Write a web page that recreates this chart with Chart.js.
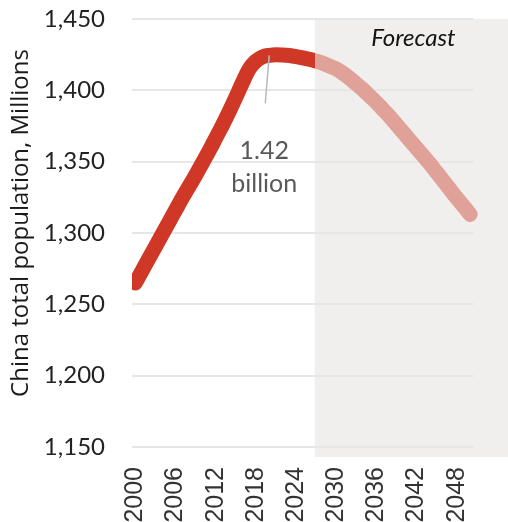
<!DOCTYPE html>
<html>
<head>
<meta charset="utf-8">
<script src="https://cdn.jsdelivr.net/npm/chart.js@4/dist/chart.umd.min.js"></script>
<style>
  html, body { margin: 0; padding: 0; background: #fff; overflow: hidden; }
  #wrap { width: 508px; height: 522px; position: relative; }
</style>
</head>
<body>
<div id="wrap"><canvas id="popChart"></canvas></div>
<script>
// China total population, millions
const years = [
    2000, 2001, 2002, 2003, 2004, 2005, 2006, 2007, 2008, 2009,
    2010, 2011, 2012, 2013, 2014, 2015, 2016, 2017, 2018, 2019,
    2020, 2021, 2022, 2023, 2024, 2025, 2026, 2027, 2028, 2029,
    2030, 2031, 2032, 2033, 2034, 2035, 2036, 2037, 2038, 2039,
    2040, 2041, 2042, 2043, 2044, 2045, 2046, 2047, 2048, 2049, 2050
];
// 2000-2026
const actual = [
    1265, 1273.5, 1282, 1290.5, 1299, 1307.5, 1316, 1324.5, 1332.5, 1340.5,
    1349, 1357.5, 1366.5, 1375.5, 1385, 1395, 1405.5, 1415, 1420.5, 1423.5,
    1424.5, 1424.9, 1424.8, 1424.4, 1423.7, 1422.8, 1421.8
];
// 2027-2050
const forecast = [
    1420.5, 1419, 1417, 1415, 1412, 1408.5, 1404.5, 1400.5, 1396, 1391.5,
    1386.5, 1381.5, 1376, 1370.5, 1365, 1359.5, 1354, 1348.5, 1342.5, 1336.5,
    1330.5, 1324.5, 1319, 1313
];
const tickYears = [2000, 2006, 2012, 2018, 2024, 2030, 2036, 2042, 2048];
const yTicks = [1150, 1200, 1250, 1300, 1350, 1400, 1450];
const forecastFrom = 2026.8;
const calloutYear = 2020;

const population = actual.concat(forecast);
const peakLabel = (Math.max(...population) / 1000).toFixed(2);

const pastColor = '#cf3727';
const futureColor = '#e0a198';

// line colour switches sharply where the forecast band starts
function lineColor(context) {
    const chart = context.chart;
    const {ctx, chartArea, scales} = chart;
    if (!chartArea || !scales.x) return pastColor;
    const split = Math.min(Math.max(scales.x.getPixelForValue(forecastFrom) / chart.width, 0), 1);
    const g = ctx.createLinearGradient(0, 0, chart.width, 0);
    g.addColorStop(0, pastColor);
    g.addColorStop(split, pastColor);
    g.addColorStop(split, futureColor);
    g.addColorStop(1, futureColor);
    return g;
}

const overlay = {
    id: 'overlay',
    beforeDraw(chart) {
        const {ctx, chartArea, scales: {x}} = chart;
        const left = x.getPixelForValue(forecastFrom);
        ctx.save();
        ctx.fillStyle = '#f0efed';
        ctx.fillRect(left, chartArea.top, chart.width - left, chartArea.bottom - chartArea.top + 10);
        ctx.restore();
    },
    afterDatasetsDraw(chart) {
        const {ctx, chartArea, scales: {x, y}} = chart;
        const px = x.getPixelForValue(calloutYear);
        const py = y.getPixelForValue(population[years.indexOf(calloutYear)]);
        ctx.save();

        // leader line to the peak
        ctx.strokeStyle = '#b5b9c0';
        ctx.lineWidth = 1.5;
        ctx.beginPath();
        ctx.moveTo(px, py);
        ctx.lineTo(px - 4, py + 48);
        ctx.stroke();

        ctx.fillStyle = '#595959';
        ctx.font = '25px Lato';
        ctx.textAlign = 'center';
        ctx.textBaseline = 'middle';
        ctx.fillText(peakLabel, px - 5, py + 96);
        ctx.fillText('billion', px - 5, py + 129);

        const left = x.getPixelForValue(forecastFrom);
        ctx.font = 'italic 24px Lato';
        ctx.fillStyle = '#141414';
        ctx.fillText('Forecast', (left + chart.width) / 2 + 2, chartArea.top + 19);

        // y axis title
        ctx.translate(21, (chartArea.top + chartArea.bottom) / 2 - 10);
        ctx.rotate(-Math.PI / 2);
        ctx.font = '24px "Open Sans"';
        ctx.fillStyle = '#1a1a1a';
        ctx.fillText('China total population, Millions', 0, 0);
        ctx.restore();
    }
};

new Chart(document.getElementById('popChart'), {
    type: 'line',
    data: {
        datasets: [{
            data: years.map((yr, i) => ({x: yr, y: population[i]})),
            borderColor: lineColor,
            borderWidth: 15,
            borderCapStyle: 'round',
            borderJoinStyle: 'round',
            cubicInterpolationMode: 'monotone',
            pointRadius: 0,
            fill: false,
            clip: {left: 0, top: 20, right: 20, bottom: 20}
        }]
    },
    options: {
        responsive: true,
        maintainAspectRatio: false,
        animation: false,
        layout: {padding: {top: 19, right: 26, bottom: 0, left: 0}},
        plugins: {
            legend: {display: false},
            tooltip: {enabled: false}
        },
        scales: {
            x: {
                type: 'linear',
                min: 1999.5,
                max: 2050.5,
                afterBuildTicks: scale => {
                    scale.ticks = tickYears.map(v => ({value: v}));
                },
                afterFit: scale => { scale.height = 75; },
                grid: {display: false, drawTicks: false},
                border: {display: false},
                ticks: {
                    autoSkip: false,
                    minRotation: 90,
                    maxRotation: 90,
                    padding: 20,
                    color: '#333',
                    font: {family: 'Liberation Sans', size: 25},
                    callback: v => String(v)
                }
            },
            y: {
                min: 1150,
                max: 1450,
                afterBuildTicks: scale => {
                    scale.ticks = yTicks.map(v => ({value: v}));
                },
                afterFit: scale => {
                    scale.width = 132;
                    scale.paddingTop = 0;
                    scale.paddingBottom = 0;
                },
                grid: {color: '#e6e6e6', lineWidth: 2, drawTicks: false},
                border: {display: false},
                ticks: {
                    padding: 27,
                    color: '#222',
                    font: {family: 'Lato', size: 24},
                    callback: v => v.toLocaleString('en-US')
                }
            }
        }
    },
    plugins: [overlay]
});
</script>
</body>
</html>
